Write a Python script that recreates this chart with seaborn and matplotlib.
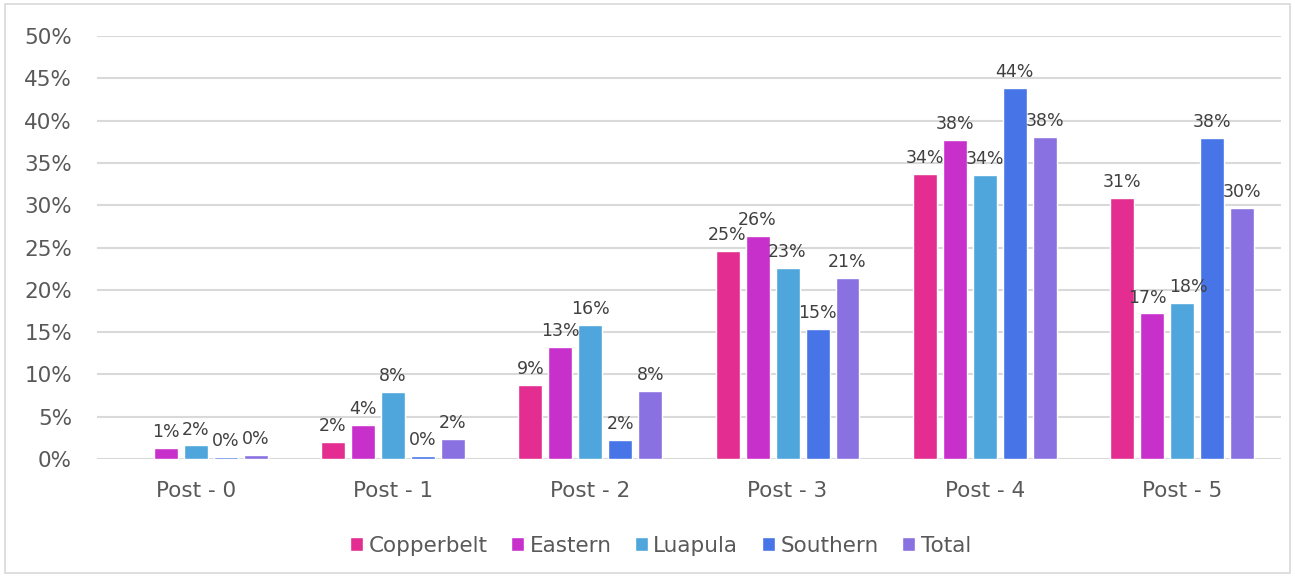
import numpy as np
import pandas as pd
import seaborn as sns
import matplotlib.pyplot as plt
from matplotlib.patches import Rectangle
from matplotlib.ticker import FuncFormatter, MultipleLocator

categories = ["Post - 0", "Post - 1", "Post - 2", "Post - 3", "Post - 4", "Post - 5"]
regions = ["Copperbelt", "Eastern", "Luapula", "Southern", "Total"]

copperbelt = [np.nan, 2.0, 8.8, 24.6, 33.7, 30.9]
eastern = [1.3, 4.0, 13.2, 26.4, 37.7, 17.2]
luapula = [1.6, 7.9, 15.8, 22.6, 33.6, 18.4]
southern = [0.2, 0.35, 2.2, 15.4, 43.9, 37.9]
total = [0.45, 2.35, 8.0, 21.4, 38.1, 29.7]

colors = ["#E32D91", "#C830CC", "#4EA6DC", "#4775E7", "#8971E1"]

series = [copperbelt, eastern, luapula, southern, total]
df = pd.DataFrame({
    "period": categories * len(regions),
    "region": np.repeat(regions, len(categories)),
    "value": np.concatenate(series),
})

sns.set_style("white")
plt.rcParams["font.family"] = ["DejaVu Sans"]
text_color = "#595959"

fig = plt.figure(figsize=(12.95, 5.77), dpi=100)
ax = fig.add_axes([0.0749, 0.2045, 0.9141, 0.7331])

sns.barplot(data=df, x="period", y="value", hue="region", order=categories,
            hue_order=regions, palette=colors, width=0.76, gap=0.2,
            saturation=1, ax=ax, legend=True)

ax.set_ylim(0, 50)
ax.set_xlim(-0.5, len(categories) - 0.5)
ax.yaxis.set_major_locator(MultipleLocator(5))
ax.yaxis.set_major_formatter(FuncFormatter(lambda v, _: f"{v:.0f}%"))
ax.grid(axis="y", color="#D9D9D9", linewidth=1.5)
ax.set_axisbelow(True)
for s in ax.spines.values():
    s.set_visible(False)
ax.set_xlabel("")
ax.set_ylabel("")
ax.tick_params(axis="y", length=0, pad=18, labelsize=15.5, labelcolor=text_color)
ax.tick_params(axis="x", length=0, pad=16, labelsize=15.5, labelcolor=text_color)

# value labels above each bar; the two close Post - 5 labels are spread apart slightly
nudges = {(1, 5): -5, (2, 5): 6}
for si, (container, vals) in enumerate(zip(ax.containers, series)):
    shown_idx = [i for i, v in enumerate(vals) if not np.isnan(v)]
    texts = ax.bar_label(container, labels=[f"{vals[i]:.0f}%" for i in shown_idx],
                         padding=5, fontsize=12.5, color="#404040")
    for t, i in zip(texts, shown_idx):
        dx = nudges.get((si, i), 0)
        if dx:
            x, y = t.xyann
            t.xyann = (x + dx * 0.72, y)

handles, labels = ax.get_legend_handles_labels()
ax.legend(handles, labels, loc="center", bbox_to_anchor=(0.476, -0.205),
          ncol=5, frameon=False, fontsize=15.5, labelcolor=text_color,
          handlelength=0.6, handleheight=0.6, handletextpad=0.25,
          columnspacing=1.1)

fig.patches.append(Rectangle((5 / 1295, 4 / 577), 1285 / 1295, 569 / 577,
                             transform=fig.transFigure, fill=False,
                             edgecolor="#D9D9D9", linewidth=1.2))

fig.savefig("out.png", dpi=100)
